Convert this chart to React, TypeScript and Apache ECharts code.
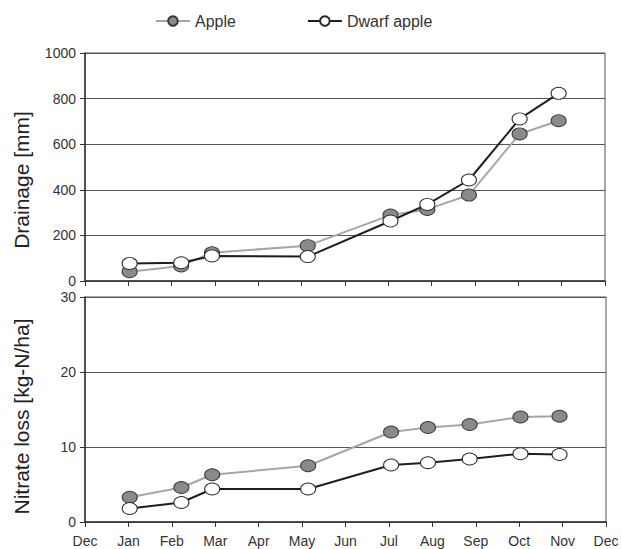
import React, { useEffect, useRef } from "react";
import * as echarts from "echarts";

const monthLabels = ["Dec", "Jan", "Feb", "Mar", "Apr", "May", "Jun", "Jul", "Aug", "Sep", "Oct", "Nov", "Dec"];
// sampling positions in months after the first December tick
const samplePos = [1.03, 2.22, 2.93, 5.14, 7.05, 7.9, 8.86, 10.03, 10.93];
const drainageApple = [41, 66, 124, 155, 289, 314, 377, 645, 703];
const drainageDwarf = [77, 80, 110, 107, 263, 336, 443, 711, 823];
const nitrateApple = [3.3, 4.6, 6.3, 7.5, 12.0, 12.6, 13.0, 14.0, 14.1];
const nitrateDwarf = [1.8, 2.6, 4.4, 4.4, 7.6, 7.9, 8.4, 9.1, 9.0];

const pair = (ys: number[]) => samplePos.map((x, i) => [x, ys[i]]);

const font = "Liberation Sans, Arial, sans-serif";

export default function App() {
  const ref = useRef<HTMLDivElement>(null);
  useEffect(() => {
    if (!ref.current) return;
    const chart = echarts.init(ref.current, undefined, { renderer: "svg" });
    const appleStyle = {
      type: "line" as const,
      name: "Apple",
      symbol: "circle",
      symbolSize: [15, 12],
      lineStyle: { color: "#a6a6a6", width: 2 },
      itemStyle: { color: "#8a8a8a", borderColor: "#3a3a3a", borderWidth: 1 },
      z: 3,
    };
    const dwarfStyle = {
      type: "line" as const,
      name: "Dwarf apple",
      symbol: "circle",
      symbolSize: [15, 12],
      lineStyle: { color: "#1e1e1e", width: 2 },
      itemStyle: { color: "#ffffff", borderColor: "#2a2a2a", borderWidth: 1 },
      z: 4,
    };
    const xAxisBase = {
      type: "value" as const,
      min: 0,
      max: 12,
      interval: 1,
      axisLine: { show: true, onZero: false, lineStyle: { color: "#333", width: 1.5 } },
      axisTick: { show: true, inside: false, length: 5, lineStyle: { color: "#333" } },
      splitLine: { show: false },
    };
    const yAxisBase = {
      type: "value" as const,
      min: 0,
      nameLocation: "middle" as const,
      nameRotate: 90,
      axisLine: { show: true, lineStyle: { color: "#333", width: 1.5 } },
      axisTick: { show: true, inside: false, length: 5, lineStyle: { color: "#333" } },
      axisLabel: { fontSize: 14, color: "#333", fontFamily: font, margin: 9, formatter: (v: number) => String(v) },
      splitLine: { show: true, lineStyle: { color: "#555", width: 1 } },
    };
    chart.setOption({
      animation: false,
      backgroundColor: "#ffffff",
      textStyle: { fontFamily: font },
      legend: {
        top: 8,
        left: 150,
        itemGap: 71,
        itemWidth: 34,
        itemHeight: 12,
        textStyle: { fontSize: 16, color: "#333", fontFamily: font },
        data: ["Apple", "Dwarf apple"],
      },
      grid: [
        { left: 85, right: 17, top: 53, height: 228, show: true, borderColor: "#555", borderWidth: 1 },
        { left: 85, right: 16, top: 297, height: 225, show: true, borderColor: "#555", borderWidth: 1 },
      ],
      xAxis: [
        { ...xAxisBase, gridIndex: 0, axisLabel: { show: false } },
        {
          ...xAxisBase,
          gridIndex: 1,
          axisLabel: {
            show: true,
            fontSize: 14,
            color: "#333",
            fontFamily: font,
            margin: 12,
            formatter: (v: number) => monthLabels[Math.round(v)] ?? "",
          },
        },
      ],
      yAxis: [
        {
          ...yAxisBase,
          gridIndex: 0,
          max: 1000,
          interval: 200,
          name: "Drainage [mm]",
          nameGap: 53,
          nameTextStyle: { fontSize: 21, color: "#222", fontFamily: font, padding: [0, 26, 0, 0] },
        },
        {
          ...yAxisBase,
          gridIndex: 1,
          max: 30,
          interval: 10,
          name: "Nitrate loss [kg-N/ha]",
          nameGap: 53,
          nameTextStyle: { fontSize: 21, color: "#222", fontFamily: font, padding: [0, 14, 0, 0] },
        },
      ],
      series: [
        { ...appleStyle, xAxisIndex: 0, yAxisIndex: 0, data: pair(drainageApple) },
        { ...dwarfStyle, xAxisIndex: 0, yAxisIndex: 0, data: pair(drainageDwarf) },
        { ...appleStyle, xAxisIndex: 1, yAxisIndex: 1, data: pair(nitrateApple) },
        { ...dwarfStyle, xAxisIndex: 1, yAxisIndex: 1, data: pair(nitrateDwarf) },
      ],
    });
    return () => chart.dispose();
  }, []);
  return <div ref={ref} style={{ position: "absolute", left: 0, top: 0, width: 622, height: 549 }} />;
}
